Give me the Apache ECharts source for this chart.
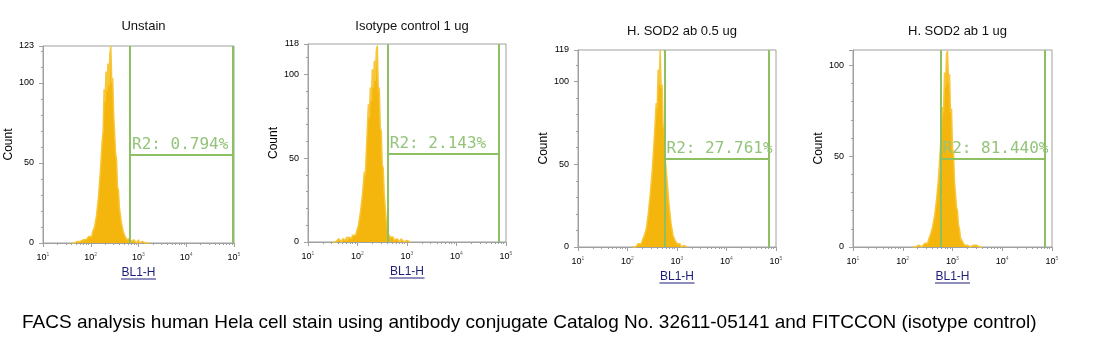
<!DOCTYPE html>
<html><head><meta charset="utf-8">
<script src="https://cdn.jsdelivr.net/npm/echarts@6/dist/echarts.min.js"></script>
<style>html,body{margin:0;padding:0;background:#fff}#c{width:1117px;height:356px}</style>
</head><body><div id="c"></div>
<script>
// ---------------- data ----------------
const panelTitles = ['Unstain', 'Isotype control 1 ug', 'H. SOD2 ab 0.5 ug', 'H. SOD2 ab 1 ug'];
const yMax = [123, 118, 119, 108.4];
const gateLow = [2.822, 2.613, 2.749, 2.759];     // log10 of BL1-H
const gateHigh = [4.98, 4.857, 4.854, 4.857];
const gateLevel = [54.9, 52.4, 53.4, 48.5];
const gateLabels = ['R2: 0.794%', 'R2: 2.143%', 'R2: 27.761%', 'R2: 81.440%'];
const xTickExponents = [1, 2, 3, 4, 5];
const minorMultipliers = [2, 3, 4, 5, 6, 7, 8, 9];
const binWidth = 0.02;                              // log10 channel width
const binStart = [1.60, 1.50, 2.10, 2.20];
const counts1 = [0,0,1,0,1,0,1,0,2,1,2,1,2,1,3,2,3,2,4,3,5,4,7,6,10,10,17,18,28,29,44,43,64,70,96,88,107,95,112,98,118,123,100,103,80,80,56,52,35,33,22,21,13,12,7,7,4,4,2,2,1,3,1,2,0,2,1,2,0,1,2,0,1,0,1,0,1,0,0,1,0,1,0];
const counts2 = [0,0,1,0,1,0,2,1,2,0,2,1,2,1,3,1,3,2,3,2,4,3,5,4,6,6,10,11,18,18,28,28,42,40,55,54,82,74,92,84,103,92,108,96,114,117,90,92,68,66,46,44,29,28,13,10,5,5,3,3,2,3,1,2,1,2,1,2,0,2,1,2,0,1,0,1,0,1,0];
const counts3 = [0,0,1,0,1,0,2,1,3,2,4,4,7,7,11,12,20,21,32,31,46,47,65,64,87,84,107,98,119,96,98,72,74,54,55,40,39,25,24,14,14,7,7,4,4,2,2,1,2,0,1,0,1,0,1,0];
const counts4 = [0,1,0,0,1,0,1,0,1,0,1,1,2,1,3,2,4,4,7,7,11,11,17,17,26,26,38,39,56,55,77,74,96,88,106,108,90,95,74,76,54,52,36,35,22,20,12,10,5,5,3,3,1,2,0,1,0,1,0,1,0,1,0,0,1,0,1,0,0,1,0];
const allCounts = [counts1, counts2, counts3, counts4];
const caption = 'FACS analysis human Hela cell stain using antibody conjugate Catalog No. 32611-05141 and FITCCON (isotype control)';

// ---------------- layout ----------------
const grids = [
  {left: 43, top: 46, width: 191, height: 197},
  {left: 308, top: 44, width: 198, height: 198},
  {left: 578, top: 50, width: 198, height: 197},
  {left: 853, top: 50, width: 199, height: 197}
];
const titleTops = [15, 15, 20, 20];
const HIST = '#F4B60C';
const HIST_EDGE = '#F8C63A';
const GATE = '#8CC063';
const GATE_TEXT = '#93C47A';
const AXIS = '#A0A0A0';
const NAVY = '#1E1E7A';
const xNameGap = 22;

const minorTickValues = [];
xTickExponents.slice(0, -1).forEach(d => minorMultipliers.forEach(m => minorTickValues.push(d + Math.log10(m))));

const chart = echarts.init(document.getElementById('c'), null, {renderer: 'canvas'});
const option = {
  animation: false,
  backgroundColor: '#fff',
  title: [],
  grid: [], xAxis: [], yAxis: [], series: [], graphic: []
};

grids.forEach((g, i) => {
  option.grid.push(Object.assign({show: true, borderColor: AXIS, borderWidth: 1, backgroundColor: 'transparent'}, g));
  option.title.push({
    text: panelTitles[i], left: g.left + g.width / 2, top: titleTops[i], textAlign: 'center',
    textStyle: {fontFamily: 'Liberation Sans, Arial', fontSize: 13, fontWeight: 'normal', color: '#111'}
  });
  // major axis with labels
  option.xAxis.push({
    gridIndex: i, type: 'value', min: 1, max: 5, interval: 1,
    axisLine: {show: true, onZero: false, lineStyle: {color: AXIS, width: 1}},
    axisTick: {show: true, inside: false, length: 4, lineStyle: {color: AXIS}},
    splitLine: {show: false},
    axisLabel: {
      show: true, margin: 9, color: '#000',
      formatter: v => '{b|10}{e|' + v + '}',
      rich: {
        b: {fontFamily: 'Liberation Sans, Arial', fontSize: 9, color: '#000', lineHeight: 11},
        e: {fontFamily: 'Liberation Sans, Arial', fontSize: 5, color: '#666', lineHeight: 5, verticalAlign: 'top'}
      }
    },
    name: 'BL1-H', nameLocation: 'middle', nameGap: xNameGap,
    nameTextStyle: {fontFamily: 'Liberation Sans, Arial', fontSize: 12, color: NAVY}
  });
  // minor log ticks
  option.xAxis.push({
    gridIndex: i, type: 'value', min: 1, max: 5, position: 'bottom',
    axisLine: {show: false},
    axisTick: {show: true, length: 2, customValues: minorTickValues, lineStyle: {color: AXIS}},
    axisLabel: {show: false},
    splitLine: {show: false}
  });
  option.yAxis.push({
    gridIndex: i, type: 'value', min: 0, max: yMax[i], interval: 50,
    axisLine: {show: true, lineStyle: {color: AXIS, width: 1}},
    axisTick: {show: true, length: 4, lineStyle: {color: AXIS}},
    minorTick: {show: true, splitNumber: 5, length: 2, lineStyle: {color: AXIS}},
    splitLine: {show: false},
    axisLabel: {
      margin: 9, color: '#000', fontFamily: 'Liberation Sans, Arial', fontSize: 9,
      formatter: v => (i === 3 && v % 50 !== 0) ? '' : String(v)
    },
    name: 'Count', nameLocation: 'middle', nameGap: 27,
    nameTextStyle: {fontFamily: 'Liberation Sans, Arial', fontSize: 12, color: '#000'}
  });
  const data = allCounts[i].map((c, j) => [+(binStart[i] + j * binWidth).toFixed(3), c]);
  option.series.push({
    type: 'line', xAxisIndex: 2 * i, yAxisIndex: i, data: data,
    symbol: 'none', z: 2,
    lineStyle: {color: HIST_EDGE, width: 1.5},
    areaStyle: {color: HIST, opacity: 1}
  });
  option.series.push({
    type: 'line', xAxisIndex: 2 * i, yAxisIndex: i, data: [[gateLow[i], 0]], symbol: 'none', z: 5,
    lineStyle: {opacity: 0},
    markLine: {
      silent: true, symbol: ['none', 'none'], animation: false,
      lineStyle: {color: GATE, width: 2, type: 'solid'},
      label: {show: false},
      emphasis: {disabled: true},
      data: [
        {xAxis: gateLow[i]},
        {xAxis: gateHigh[i]},
        [
          {coord: [gateLow[i], gateLevel[i]],
           label: {show: true, position: 'insideStartTop', distance: 2, formatter: gateLabels[i],
                   color: GATE_TEXT, fontFamily: 'DejaVu Sans Mono', fontSize: 16}},
          {coord: [gateHigh[i], gateLevel[i]]}
        ]
      ]
    }
  });
  // underline for the hyperlink-styled axis name
  const cx = g.left + g.width / 2;
  const uy = g.top + g.height + xNameGap + 14;
  option.graphic.push({type: 'line', shape: {x1: cx - 17.5, y1: uy, x2: cx + 17.5, y2: uy},
    style: {stroke: NAVY, lineWidth: 1}, silent: true});
});

option.title.push({
  text: caption, left: 17, top: 308,
  textStyle: {fontFamily: 'Liberation Sans, Arial', fontSize: 19, fontWeight: 'normal', color: '#000'}
});

chart.setOption(option);
</script>
</body></html>
